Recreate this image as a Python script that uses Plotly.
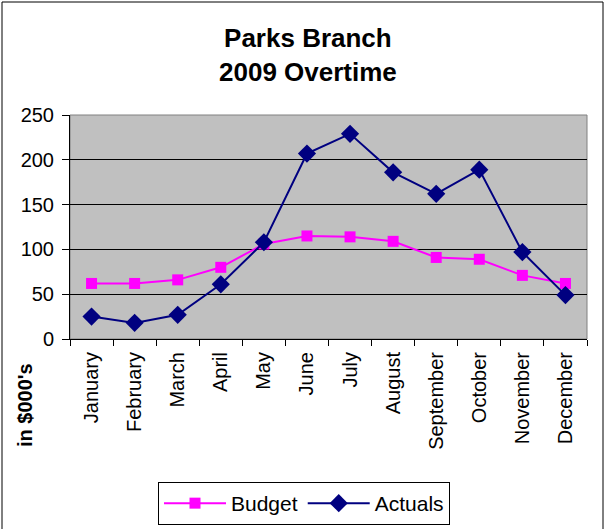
import plotly.graph_objects as go

months = ["January", "February", "March", "April", "May", "June", "July",
          "August", "September", "October", "November", "December"]
budget = [62, 62, 66, 80, 106, 115, 114, 109, 91, 89, 71, 62]
actuals = [25, 18, 27, 61, 108, 207, 229, 186, 162, 189, 97, 49]
y_ticks = [0, 50, 100, 150, 200, 250]

W, H = 605, 529
L, R, T, B = 70, 18, 115, 190
pw, ph = W - L - R, H - T - B

def px(x):
    return (x - L) / pw

def py(y):
    return (H - B - y) / ph

fig = go.Figure()
fig.add_trace(go.Scatter(x=months, y=budget, name="Budget", mode="lines+markers",
                         line=dict(color="#FF00FF", width=2),
                         marker=dict(symbol="square", size=11, color="#FF00FF")))
fig.add_trace(go.Scatter(x=months, y=actuals, name="Actuals", mode="lines+markers",
                         line=dict(color="#000080", width=2),
                         marker=dict(symbol="diamond", size=14, color="#000080")))

font = "Arial, Liberation Sans, sans-serif"
fig.update_layout(
    width=W, height=H,
    margin=dict(l=L, r=R, t=T, b=B, pad=0, autoexpand=False),
    paper_bgcolor="white", plot_bgcolor="#C0C0C0",
    font=dict(family=font, size=20, color="black"),
    showlegend=True,
    legend=dict(orientation="h", x=(304 / W), xanchor="center", xref="container",
                y=(H - 482) / H, yanchor="top", yref="container",
                bordercolor="black", borderwidth=1, bgcolor="white",
                font=dict(size=21), tracegroupgap=0, itemwidth=62),
    xaxis=dict(type="category", range=[-0.5, 11.5], tickangle=-90, ticks="outside",
               ticklen=6, tickson="boundaries", tickcolor="black", showline=True,
               linecolor="black", linewidth=1, showgrid=False, automargin=False,
               ticklabelstandoff=4, tickfont=dict(size=20)),
    yaxis=dict(range=[0, 250], tickvals=y_ticks, ticks="outside", ticklen=7,
               tickcolor="black", showline=True, linecolor="black", linewidth=1,
               showgrid=True, gridcolor="black", gridwidth=1, zeroline=False,
               automargin=False, ticklabelstandoff=4, tickfont=dict(size=20)),
    annotations=[
        dict(text="<b>Parks Branch<br>2009 Overtime</b>", x=px(308), xref="paper",
             y=py(55), yref="paper", yanchor="middle", showarrow=False,
             font=dict(size=26)),
        dict(text="<b>in $000's</b>", x=px(25), xref="paper", y=py(405), yref="paper",
             textangle=-90, showarrow=False, xanchor="center", yanchor="middle",
             font=dict(size=20)),
    ],
    shapes=[
        dict(type="rect", xref="paper", yref="paper", x0=0, x1=1, y0=0, y1=1,
             line=dict(color="#808080", width=1), layer="below"),
        dict(type="rect", xref="paper", yref="paper", x0=px(2), x1=px(603),
             y0=py(560), y1=py(2), line=dict(color="black", width=1)),
    ],
)

fig.write_html("out.html")
